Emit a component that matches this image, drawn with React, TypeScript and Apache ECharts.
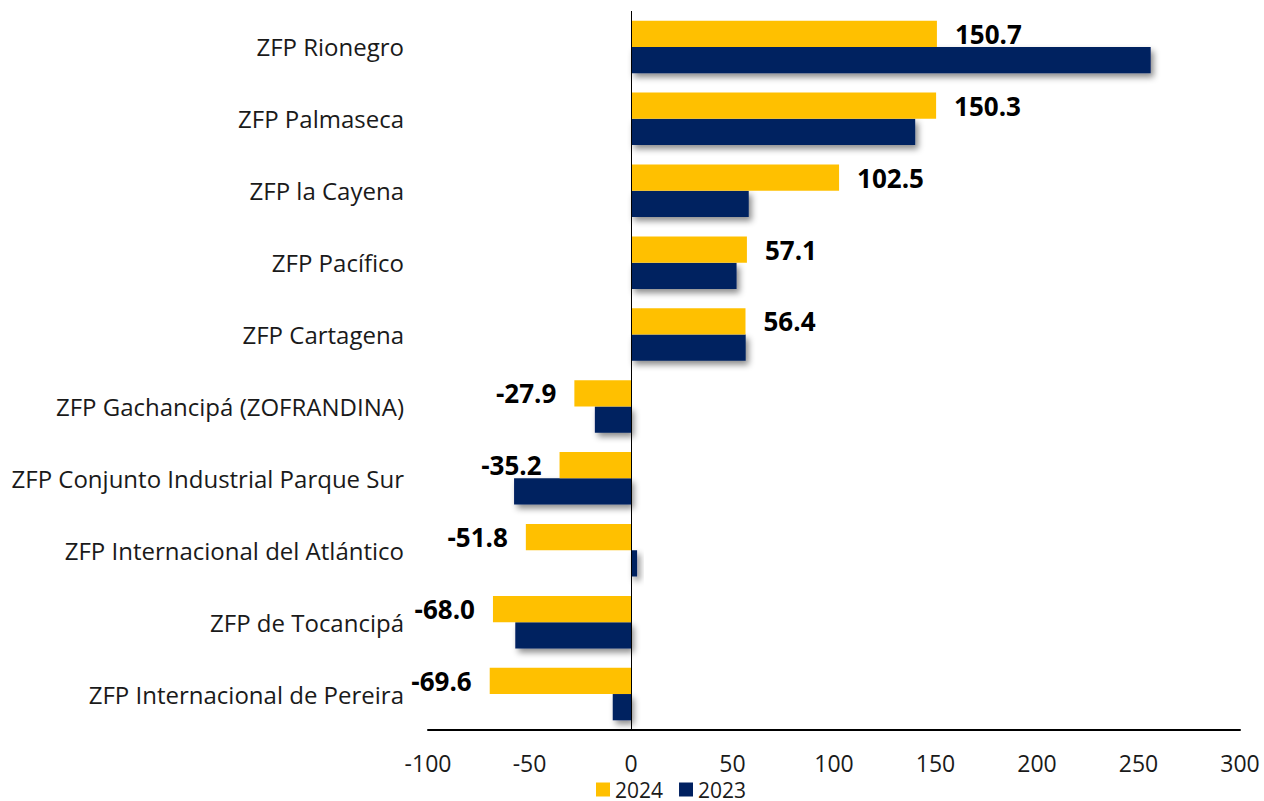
import React, { useEffect, useRef } from "react";
import * as echarts from "echarts";

const categories = [
  "ZFP Rionegro",
  "ZFP Palmaseca",
  "ZFP la Cayena",
  "ZFP Pacífico",
  "ZFP Cartagena",
  "ZFP Gachancipá (ZOFRANDINA)",
  "ZFP Conjunto Industrial Parque Sur",
  "ZFP Internacional del Atlántico",
  "ZFP de Tocancipá",
  "ZFP Internacional de Pereira",
];
const values2024 = [150.7, 150.3, 102.5, 57.1, 56.4, -27.9, -35.2, -51.8, -68.0, -69.6];
const values2023 = [256, 140, 58, 52, 56.5, -17.8, -57.6, 3, -57, -9];
const seriesNames = ["2024", "2023"];

const YELLOW = "#FFC000";
const NAVY = "#002060";
const FONT = "'Open Sans', 'Noto Sans', sans-serif";

export default function App() {
  const ref = useRef<HTMLDivElement>(null);
  useEffect(() => {
    if (!ref.current) return;
    const chart = echarts.init(ref.current, undefined, { renderer: "svg" });
    chart.setOption({
      animation: false,
      backgroundColor: "#ffffff",
      textStyle: { fontFamily: FONT },
      grid: { left: 428, right: 24, top: 11, bottom: 71, containLabel: false },
      legend: {
        data: seriesNames,
        left: 596,
        top: 779,
        padding: 0,
        itemWidth: 14,
        itemHeight: 14,
        itemGap: 16,
        icon: "rect",
        textStyle: {
          fontSize: 21,
          lineHeight: 16,
          color: "#1a1a1a",
          fontFamily: FONT,
        },
      },
      xAxis: {
        type: "value",
        min: -100,
        max: 300,
        interval: 50,
        axisLine: { show: true, onZero: false, lineStyle: { color: "#000", width: 2 } },
        axisTick: { show: false },
        splitLine: { show: false },
        axisLabel: { fontSize: 23, color: "#1a1a1a", margin: 21, fontFamily: FONT },
      },
      yAxis: {
        type: "category",
        inverse: true,
        data: categories,
        axisLine: { show: false, onZero: false },
        axisTick: { show: false },
        splitLine: { show: false },
        axisLabel: { fontSize: 24, color: "#1a1a1a", margin: 24, fontFamily: FONT },
      },
      series: [
        {
          name: seriesNames[0],
          type: "bar",
          data: values2024.map((v) => ({
            value: v,
            label: { position: v >= 0 ? "right" : "left" },
          })),
          barGap: "0%",
          barCategoryGap: "27%",
          itemStyle: { color: YELLOW },
          label: {
            show: true,
            distance: 18,
            fontSize: 26,
            fontWeight: "bold",
            color: "#000",
            fontFamily: FONT,
            formatter: (p: any) => Number(p.value).toFixed(1),
          },
          z: 3,
          markLine: {
            silent: true,
            symbol: "none",
            label: { show: false },
            lineStyle: { color: "#000", width: 1, type: "solid" },
            data: [{ xAxis: 0 }],
          },
        },
        {
          name: seriesNames[1],
          type: "bar",
          data: values2023,
          barGap: "0%",
          barCategoryGap: "27%",
          itemStyle: {
            color: NAVY,
            shadowColor: "rgba(0,0,0,0.45)",
            shadowBlur: 6,
            shadowOffsetX: 3,
            shadowOffsetY: 4,
          },
          z: 2,
        },
      ],
    });
    return () => chart.dispose();
  }, []);
  return (
    <div
      ref={ref}
      style={{ position: "fixed", left: 0, top: 0, width: 1264, height: 801, background: "#fff" }}
    />
  );
}
